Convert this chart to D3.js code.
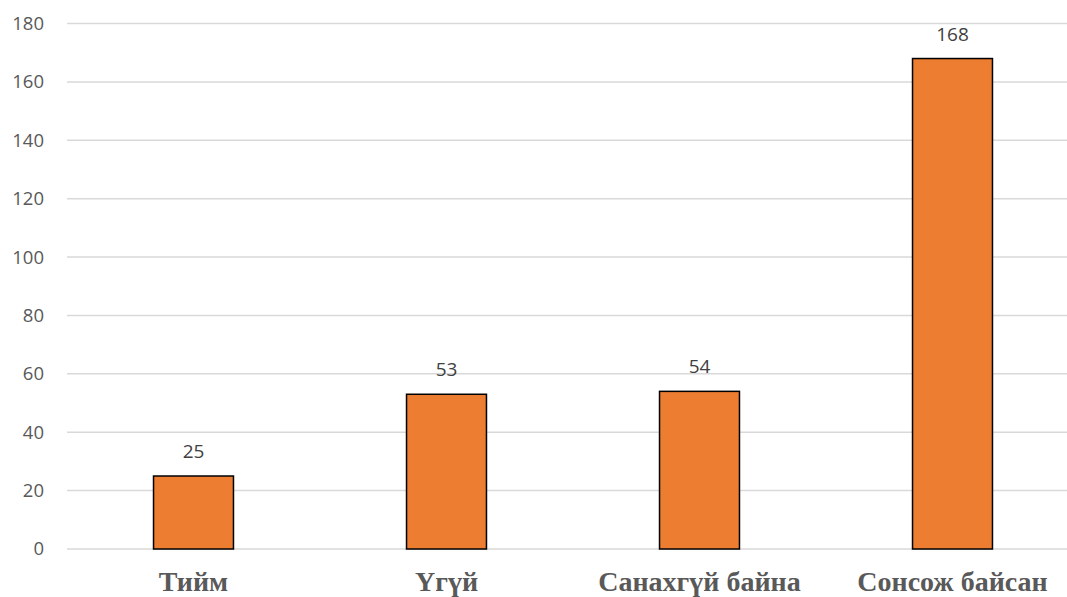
<!DOCTYPE html>
<html><head><meta charset="utf-8">
<script src="https://cdn.jsdelivr.net/npm/d3@7"></script>
<style>body{margin:0;background:#fff;}</style>
</head><body>
<svg id="c" width="1067" height="597"></svg>
<script>
const categories = ["Тийм", "Үгүй", "Санахгүй байна", "Сонсож байсан"];
const values = [25, 53, 54, 168];
const yTicks = [0, 20, 40, 60, 80, 100, 120, 140, 160, 180];

(function () {
const svg = d3.select("#c");
const mLeft = 67, mRight = 1079, mTop = 23.5, mBottom = 549;
const x = d3.scaleBand().domain(categories).range([mLeft, mRight]).paddingInner(0).paddingOuter(0);
const y = d3.scaleLinear().domain([0, 180]).range([mBottom, mTop]);
const barW = x.bandwidth() * 0.316;

svg.append("g").selectAll("line").data(yTicks).join("line")
  .attr("x1", mLeft).attr("x2", 1067)
  .attr("y1", d => y(d)).attr("y2", d => y(d))
  .attr("stroke", "#d9d9d9").attr("stroke-width", 1.5);

svg.append("g").selectAll("text").data(yTicks).join("text")
  .attr("x", 44).attr("y", d => y(d)).attr("dy", "0.35em")
  .attr("text-anchor", "end").attr("fill", "#595959")
  .attr("font-family", "Open Sans, Liberation Sans, sans-serif").attr("font-size", 18.5)
  .text(d => d);

svg.append("g").selectAll("rect").data(values).join("rect")
  .attr("x", (d, i) => x(categories[i]) + x.bandwidth() / 2 - barW / 2)
  .attr("width", barW)
  .attr("y", d => y(d)).attr("height", d => y(0) - y(d))
  .attr("fill", "#ed7d31").attr("stroke", "#000").attr("stroke-width", 1.5);

svg.append("g").selectAll("text").data(values).join("text")
  .attr("x", (d, i) => x(categories[i]) + x.bandwidth() / 2)
  .attr("y", d => y(d) - 18)
  .attr("text-anchor", "middle").attr("fill", "#404040")
  .attr("font-family", "Open Sans, Liberation Sans, sans-serif").attr("font-size", 19)
  .text(d => d);

svg.append("g").selectAll("text").data(categories).join("text")
  .attr("x", d => x(d) + x.bandwidth() / 2)
  .attr("y", 591)
  .attr("text-anchor", "middle").attr("fill", "#595959")
  .attr("font-family", "Liberation Serif, Times New Roman, serif").attr("font-weight", "bold").attr("font-size", 28)
  .text(d => d);
})();
</script>
</body></html>
